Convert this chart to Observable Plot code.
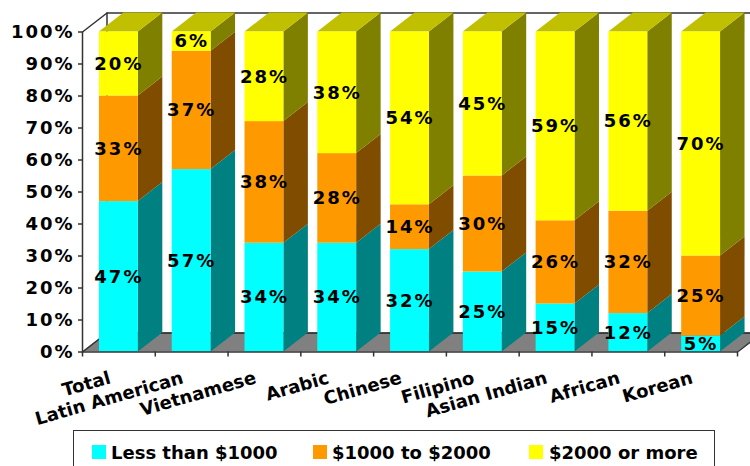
<!DOCTYPE html>
<html><head><meta charset="utf-8">
<style>
html,body{margin:0;padding:0;background:#fff;overflow:hidden;width:750px;height:466px}
#legend{position:absolute;left:73px;top:430px;width:642px;height:50px;border:1.5px solid #333;box-sizing:border-box;background:#fff;font:bold 18px "DejaVu Sans",sans-serif;color:#000}
#legend i{position:absolute;top:14px;width:14px;height:14px}
#legend span{position:absolute;top:11px;white-space:nowrap;line-height:22px}
.cat text{letter-spacing:0}
</style>
<script src="https://cdn.jsdelivr.net/npm/d3@7"></script>
<script src="https://cdn.jsdelivr.net/npm/@observablehq/plot@0.6"></script>
</head><body>
<div id="chart"></div>
<div id="legend"></div>
<script>
const categories = ["Total","Latin American","Vietnamese","Arabic","Chinese","Filipino","Asian Indian","African","Korean"];
const lessThan1000 = [47,57,34,34,32,25,15,12,5];
const from1000to2000 = [33,37,38,28,14,30,26,32,25];
const over2000 = [20,6,28,38,54,45,59,56,70];
const seriesNames = ["Less than $1000","$1000 to $2000","$2000 or more"];
const faceColors = ["#00FFFF","#FF9900","#FFFF00"];
const sideColors = ["#008080","#7F4C00","#808000"];
const topColor = "#C0C000";
const tickValues = d3.range(0,101,10);

const barPad = 0.233, depthX = 0.3365, depthY = 5.94;
const font = {fontFamily:"DejaVu Sans", fontWeight:"bold", fontSize:18};

const segs = [];
categories.forEach((c,i)=>{
  let lo = 0;
  [lessThan1000,from1000to2000,over2000].forEach((arr,s)=>{
    const v = arr[i];
    segs.push({i,c,s,v,lo,hi:lo+v,x0:i+barPad,x1:i+1-barPad,id:i+"-"+s});
    lo += v;
  });
});
const sidePts = segs.flatMap(d=>[
  {id:d.id,s:d.s,x:d.x1,lo:d.lo,hi:d.hi},
  {id:d.id,s:d.s,x:d.x1+depthX,lo:d.lo+depthY,hi:d.hi+depthY}
]);
const topPts = categories.flatMap((c,i)=>[
  {id:i,y:100,a:i+barPad,b:i+1-barPad},
  {id:i,y:100+depthY,a:i+barPad+depthX,b:i+1-barPad+depthX}
]);
const n = categories.length;
const floorPts = [{y:0,a:0,b:n},{y:depthY,a:depthX,b:n+depthX}];

const plot = Plot.plot({
  width:750,height:430,
  marginLeft:82,marginRight:13,marginTop:31.5,marginBottom:78.5,
  x:{type:"linear",domain:[0,n],axis:null},
  y:{domain:[0,100],axis:null},
  color:{type:"identity"},
  style:{background:"transparent",letterSpacing:"2px",overflow:"hidden"},
  marks:[
    Plot.area(floorPts,{x1:"a",x2:"b",y1:"y",y2:"y",fill:"#808080"}),
    Plot.line([[depthX,depthY],[depthX,100+depthY],[n+depthX,100+depthY]],{stroke:"#333",strokeWidth:1.5}),
    Plot.line([[depthX,depthY],[n+depthX,depthY]],{stroke:"#222",strokeWidth:1.5}),
    Plot.line([[0,0],[depthX,depthY]],{stroke:"#333",strokeWidth:1.5}),
    Plot.line([[0,100],[depthX,100+depthY]],{stroke:"#333",strokeWidth:1.5}),
    Plot.line([[n,0],[n+depthX,depthY]],{stroke:"#333",strokeWidth:1.5}),
    Plot.area(sidePts,{x1:"x",x2:"x",y1:"lo",y2:"hi",z:"id",fill:d=>sideColors[d.s]}),
    Plot.area(topPts,{x1:"a",x2:"b",y1:"y",y2:"y",z:"id",fill:topColor}),
    Plot.rect(segs,{x1:"x0",x2:"x1",y1:"lo",y2:"hi",fill:d=>faceColors[d.s]}),
    Plot.ruleX([0],{y1:0,y2:100,stroke:"#333",strokeWidth:1.5}),
    Plot.ruleY([0],{x1:0,x2:n,stroke:"#333",strokeWidth:1.5}),
    Plot.axisY({ticks:tickValues,tickFormat:d=>d+"%",tickSize:4,tickPadding:4,stroke:"#333",strokeWidth:1.5,color:"#000",...font}),
    Plot.axisX({ticks:d3.range(0,n+1),tickFormat:()=>"",tickSize:5,stroke:"#333",strokeWidth:1.5}),
    Plot.text(segs,{x:d=>(d.x0+d.x1)/2,y:d=>(d.lo+d.hi)/2,text:d=>d.v+"%",fill:"#000",...font}),
    Plot.text(categories,{x:(d,i)=>i+0.5-0.1,y:0,dy:31,text:d=>d,rotate:-16,textAnchor:"end",lineAnchor:"bottom",fill:"#000",className:"cat",...font})
  ]
});
document.getElementById("chart").append(plot);

const legend = document.getElementById("legend");
const swatchX = [18,239,455], labelX = [37,258,475];
seriesNames.forEach((name,k)=>{
  const sw = document.createElement("i");
  sw.style.left = swatchX[k]+"px"; sw.style.background = faceColors[k];
  const sp = document.createElement("span");
  sp.style.left = labelX[k]+"px"; sp.textContent = name;
  legend.append(sw,sp);
});
</script>
</body></html>
